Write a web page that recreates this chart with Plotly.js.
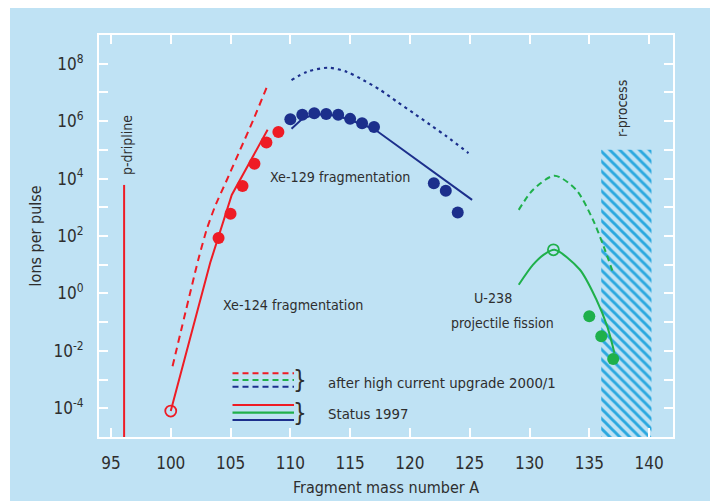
<!DOCTYPE html>
<html>
<head>
<meta charset="utf-8">
<script src="https://cdn.plot.ly/plotly-3.0.1.min.js"></script>
<style>
  html, body { margin: 0; padding: 0; background: #ffffff; width: 710px; height: 501px; overflow: hidden; }
  #chart { position: absolute; left: 10px; top: 8px; width: 700px; height: 493px; }
</style>
</head>
<body>
<div id="chart"></div>
<script>
// ---------- data ----------
const xe124A        = [104, 105, 106, 107, 108, 109];
const xe124Ions     = [85, 600, 5500, 33000, 180000, 420000];
const xe124OpenA    = [100];
const xe124OpenIons = [8e-5];
const xe124StatusA    = [100, 103.3, 105.1, 108.1];
const xe124StatusIons = [8e-5, 11.7, 2700, 5.0e5];
const xe124UpgradeA    = [100.15, 102.3, 103.0, 103.7, 104.7, 105.8, 106.9, 108.15];
const xe124UpgradeIons = [0.0029, 14.8, 166, 1070, 9100, 1.0e5, 1.1e6, 2.0e7];

const xe129A        = [110, 111, 112, 113, 114, 115, 116, 117, 122, 123, 124];
const xe129Ions     = [1.17e6, 1.66e6, 1.9e6, 1.78e6, 1.66e6, 1.2e6, 8.5e5, 6.2e5, 6900, 3800, 660];
const xe129StatusA    = [110.1, 111.0, 112, 113, 114, 115, 116, 117.1, 125.2];
const xe129StatusIons = [5.4e5, 1.2e6, 1.7e6, 1.7e6, 1.5e6, 1.1e6, 7.8e5, 5.0e5, 1820];
const xe129UpgradeA    = [110.1, 111.4, 113.2, 114.7, 116.1, 117.5, 118.9, 120.3, 121.7, 123.1, 124.9];
const xe129UpgradeIons = [2.69e7, 5.25e7, 7.24e7, 5.25e7, 2.69e7, 1.23e7, 4.79e6, 1.91e6, 7.41e5, 2.88e5, 7.76e4];

const u238A         = [135, 136, 137];
const u238Ions      = [0.16, 0.032, 0.0052];
const u238OpenA     = [132];
const u238OpenIons  = [33];
const u238StatusA    = [129.1, 130.3, 131.2, 132.1, 134.2, 135.6, 136.5, 137.1];
const u238StatusIons = [2.0, 10, 22.4, 33, 6.8, 0.60, 0.071, 0.0085];
const u238UpgradeA    = [129.1, 130.3, 132.1, 133.9, 135.3, 136.2, 137.0];
const u238UpgradeIons = [813, 4070, 12600, 4070, 372, 43.6, 5.1];

const pDriplineA     = [96.1, 96.1];
const pDriplineIons  = [1e-5, 6000];
const rProcessA      = [136.0, 140.2];
const rProcessIons   = [1e-5, 1e5];

const xTickVals      = [95, 100, 105, 110, 115, 120, 125, 130, 135, 140];
const yMajorExp      = [-4, -2, 0, 2, 4, 6, 8];
const yMinorExp      = [-3, -1, 1, 3, 5, 7];

// ---------- styling ----------
const RED = '#ee1c25', BLUE = '#1c2f8c', GREEN = '#1fb04b', HATCH = '#2aa8df';
const BG = '#bfe2f4', TXT = '#2e2e2e';
const FONT = "'DejaVu Sans Condensed', 'Liberation Sans Narrow', sans-serif";

const yTickVals  = yMajorExp.map(e => Math.pow(10, e));
const yTickText  = yMajorExp.map(e => '10<sup>' + e + '</sup>');
const yMinorVals = yMinorExp.map(e => Math.pow(10, e));

const traces = [
  { x: [rProcessA[0], rProcessA[1], rProcessA[1], rProcessA[0], rProcessA[0]],
    y: [rProcessIons[0], rProcessIons[0], rProcessIons[1], rProcessIons[1], rProcessIons[0]],
    mode: 'lines', fill: 'toself', fillcolor: 'rgba(0,0,0,0)',
    fillpattern: { shape: '\\', fgcolor: HATCH, bgcolor: 'rgba(0,0,0,0)', size: 7, solidity: 0.42 },
    line: { width: 0, color: 'rgba(0,0,0,0)' }, hoverinfo: 'skip' },
  { x: pDriplineA, y: pDriplineIons, mode: 'lines', line: { color: RED, width: 2 } },
  { x: xe124UpgradeA, y: xe124UpgradeIons, mode: 'lines', line: { color: RED, width: 2, dash: '7px,5px', shape: 'spline', smoothing: 0.6 } },
  { x: xe124StatusA, y: xe124StatusIons, mode: 'lines', line: { color: RED, width: 2 } },
  { x: xe129UpgradeA, y: xe129UpgradeIons, mode: 'lines', line: { color: BLUE, width: 2.2, dash: '3px,4px', shape: 'spline', smoothing: 0.8 } },
  { x: xe129StatusA, y: xe129StatusIons, mode: 'lines', line: { color: BLUE, width: 2 } },
  { x: u238UpgradeA, y: u238UpgradeIons, mode: 'lines', line: { color: GREEN, width: 2, dash: '6px,4px', shape: 'spline', smoothing: 0.8 } },
  { x: u238StatusA, y: u238StatusIons, mode: 'lines', line: { color: GREEN, width: 2, shape: 'spline', smoothing: 0.8 } },
  { x: xe124A, y: xe124Ions, mode: 'markers', marker: { color: RED, size: 12 } },
  { x: xe129A, y: xe129Ions, mode: 'markers', marker: { color: BLUE, size: 12 } },
  { x: u238A, y: u238Ions, mode: 'markers', marker: { color: GREEN, size: 12 } },
  { x: xe124OpenA, y: xe124OpenIons, mode: 'markers', marker: { symbol: 'circle-open', color: RED, size: 11, line: { width: 1.8 } } },
  { x: u238OpenA, y: u238OpenIons, mode: 'markers', marker: { symbol: 'circle-open', color: GREEN, size: 11, line: { width: 1.8 } } }
];

// plot-area pixel helpers (plot area: x 99..673, y 35..437 on the page)
const px = p => (p - 99) / 574;
const py = p => (437 - p) / 402;

const legendShapes = [];
const dashedY = [[373.3, RED], [380, GREEN], [386.7, BLUE]];
const solidY  = [[405, RED], [412.7, GREEN], [420, BLUE]];
dashedY.forEach(([y, c]) => legendShapes.push({ type: 'line', xref: 'paper', yref: 'paper',
  x0: px(232.5), x1: px(294), y0: py(y), y1: py(y), line: { color: c, width: 2, dash: '6px,4px' } }));
solidY.forEach(([y, c]) => legendShapes.push({ type: 'line', xref: 'paper', yref: 'paper',
  x0: px(232.5), x1: px(294), y0: py(y), y1: py(y), line: { color: c, width: 2.2 } }));

const ann = (text, x, y, size, opts) => Object.assign({ text, x: px(x), y: py(y), xref: 'paper', yref: 'paper',
  showarrow: false, font: { family: FONT, size: size, color: TXT }, xanchor: 'left', yanchor: 'middle' }, opts || {});

const annotations = [
  ann('Xe-129 fragmentation', 268, 177, 14.2),
  ann('Xe-124 fragmentation', 221, 305, 14.2),
  ann('U-238', 493, 298, 14.2, { xanchor: 'center' }),
  ann('projectile fission', 502, 323, 14, { xanchor: 'center' }),
  ann('p-dripline', 127, 145, 14, { xanchor: 'center', textangle: -90 }),
  ann('r-process', 622, 109, 14, { xanchor: 'center', textangle: -90 }),
  ann('}', 300, 380, 24, { xanchor: 'center' }),
  ann('}', 300, 413, 24, { xanchor: 'center' }),
  ann('after high current upgrade 2000/1', 326, 382, 14.8),
  ann('Status 1997', 326, 413, 14.8)
];

const axisCommon = {
  showgrid: false, zeroline: false, showline: true, linecolor: '#ffffff', linewidth: 2,
  mirror: 'allticks', ticks: 'inside', ticklen: 9, tickwidth: 2, tickcolor: '#ffffff',
  tickfont: { family: FONT, size: 17, color: TXT }
};

const layout = {
  width: 700, height: 493,
  paper_bgcolor: BG, plot_bgcolor: BG,
  margin: { l: 89, r: 37, t: 27, b: 64 },
  showlegend: false,
  xaxis: Object.assign({}, axisCommon, {
    range: [94, 142], tickvals: xTickVals, ticklabelstandoff: 10,
    title: { text: 'Fragment mass number A', standoff: 9, font: { family: FONT, size: 16, color: TXT } }
  }),
  yaxis: Object.assign({}, axisCommon, {
    type: 'log', range: [-5, 9], tickvals: yTickVals, ticktext: yTickText, ticklabelstandoff: 10,
    minor: { tickvals: yMinorVals, ticks: 'inside', ticklen: 9, tickwidth: 2, tickcolor: '#ffffff', showgrid: false },
    title: { text: 'Ions per pulse', standoff: 8, font: { family: FONT, size: 16, color: TXT } }
  }),
  shapes: legendShapes,
  annotations: annotations
};

Plotly.newPlot('chart', traces, layout, { displayModeBar: false, staticPlot: true });
</script>
</body>
</html>
